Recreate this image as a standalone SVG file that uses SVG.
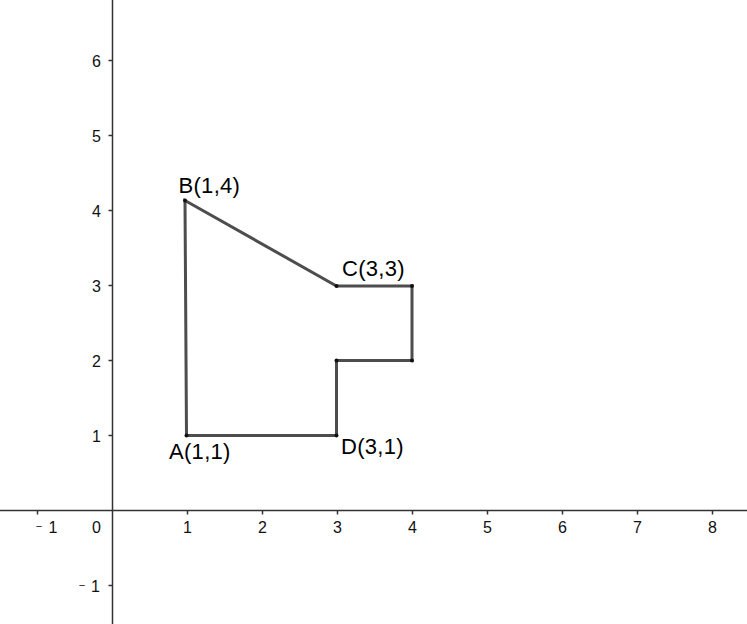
<svg xmlns="http://www.w3.org/2000/svg" width="747" height="624" viewBox="0 0 747 624">
<style>
.ax{stroke:#333;stroke-width:1.5;fill:none}
.tk{stroke:#333;stroke-width:1.5}
.num{font-family:"Liberation Sans",Arial,sans-serif;font-size:16px;fill:#111}
.mn{font-family:"Liberation Sans",Arial,sans-serif;font-size:11px;fill:#111}
.edge{stroke:#4d4d4d;stroke-width:3;fill:none;stroke-linecap:round}
.pt{fill:#111}
.lbl{font-family:"Liberation Sans",Arial,sans-serif;font-size:22px;letter-spacing:0.3px;fill:#000}
</style>
<rect width="747" height="624" fill="#fff"/>
<g id="axes">
<line class="ax" x1="0" y1="510.5" x2="747" y2="510.5"/>
<line class="ax" x1="112.5" y1="0" x2="112.5" y2="624"/>
<g class="tk">
<line x1="37.5" y1="510.5" x2="37.5" y2="514.5"/>
<line x1="187.5" y1="510.5" x2="187.5" y2="514.5"/>
<line x1="262.5" y1="510.5" x2="262.5" y2="514.5"/>
<line x1="337.5" y1="510.5" x2="337.5" y2="514.5"/>
<line x1="412.5" y1="510.5" x2="412.5" y2="514.5"/>
<line x1="487.5" y1="510.5" x2="487.5" y2="514.5"/>
<line x1="562.5" y1="510.5" x2="562.5" y2="514.5"/>
<line x1="637.5" y1="510.5" x2="637.5" y2="514.5"/>
<line x1="712.5" y1="510.5" x2="712.5" y2="514.5"/>
<line x1="108.5" y1="60.5" x2="112.5" y2="60.5"/>
<line x1="108.5" y1="135.5" x2="112.5" y2="135.5"/>
<line x1="108.5" y1="210.5" x2="112.5" y2="210.5"/>
<line x1="108.5" y1="285.5" x2="112.5" y2="285.5"/>
<line x1="108.5" y1="360.5" x2="112.5" y2="360.5"/>
<line x1="108.5" y1="435.5" x2="112.5" y2="435.5"/>
<line x1="108.5" y1="585.5" x2="112.5" y2="585.5"/>
</g>
<g class="num" text-anchor="middle">
<text x="53" y="533">1</text>
<text x="96.5" y="533">0</text>
<text x="187.5" y="533">1</text>
<text x="262.5" y="533">2</text>
<text x="337.5" y="533">3</text>
<text x="412.5" y="533">4</text>
<text x="487.5" y="533">5</text>
<text x="562.5" y="533">6</text>
<text x="637.5" y="533">7</text>
<text x="712.5" y="533">8</text>
</g>
<text class="mn" x="39" y="530" text-anchor="middle">−</text>
<g class="num" text-anchor="end">
<text x="101" y="67">6</text>
<text x="101" y="142">5</text>
<text x="101" y="217">4</text>
<text x="101" y="292">3</text>
<text x="101" y="367">2</text>
<text x="101" y="442">1</text>
<text x="100" y="592">1</text>
</g>
<text class="mn" x="82" y="589" text-anchor="middle">−</text>
</g>
<g id="connectors">
<polyline class="edge" points="186.5,435.5 336.5,435.5 336.5,360.5 412,360.5 412,286 336.5,286 185,200.5 186.5,435.5"/>
</g>
<g id="A"><circle class="pt" cx="186.5" cy="435.5" r="2"/><text class="lbl" x="169" y="459">A(1,1)</text></g>
<g id="B"><circle class="pt" cx="185" cy="200.5" r="2"/><text class="lbl" x="178.5" y="193">B(1,4)</text></g>
<g id="C"><circle class="pt" cx="336.5" cy="286" r="2"/><text class="lbl" x="342" y="275.5">C(3,3)</text></g>
<g id="D"><circle class="pt" cx="336.5" cy="435.5" r="2"/><text class="lbl" x="341" y="454">D(3,1)</text></g>
<g id="E"><circle class="pt" cx="336.5" cy="360.5" r="2"/></g>
<g id="F"><circle class="pt" cx="412" cy="360.5" r="2"/></g>
<g id="G"><circle class="pt" cx="412" cy="286" r="2"/></g>
</svg>
